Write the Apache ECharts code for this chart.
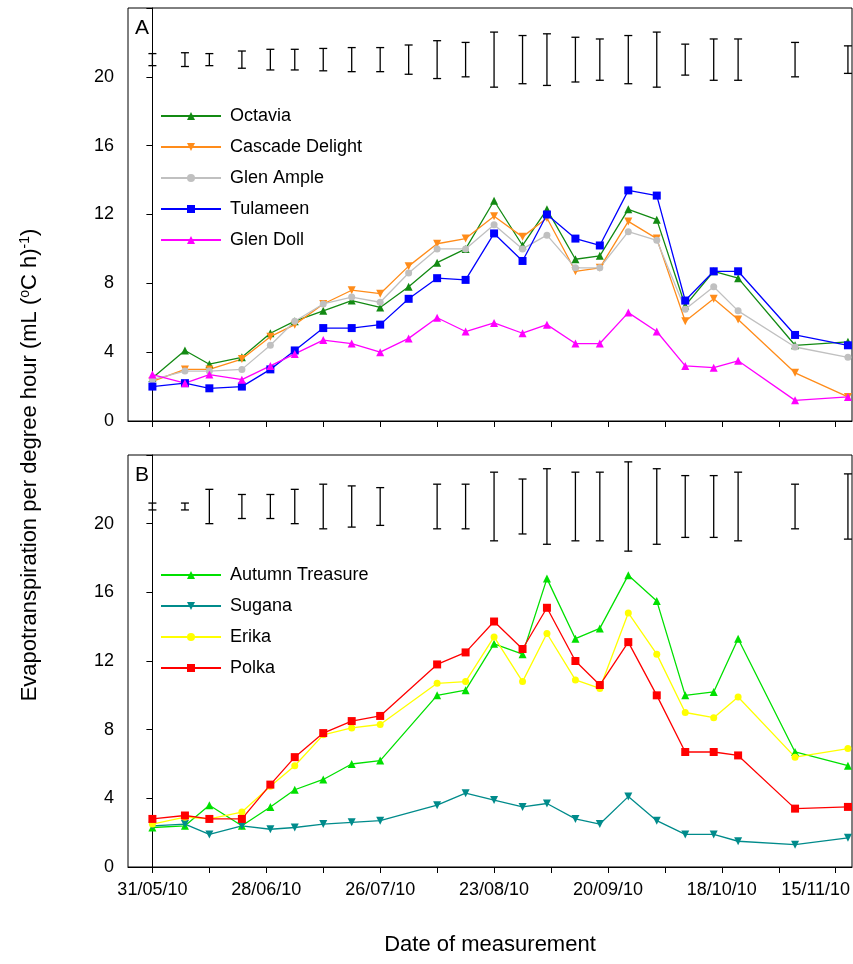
<!DOCTYPE html>
<html>
<head>
<meta charset="utf-8">
<title>Evapotranspiration</title>
<script src="https://cdn.jsdelivr.net/npm/echarts@6/dist/echarts.min.js"></script>
<style>html,body{margin:0;background:#fff;}</style>
</head>
<body>
<div id="main" style="width:853px;height:964px;"></div>
<script>
// days after 31/05/10
var daysA = [0,8,14,22,29,35,42,49,56,63,70,77,84,91,97,104,110,117,124,131,138,144,158,171];
var daysB = [0,8,14,22,29,35,42,49,56,70,77,84,91,97,104,110,117,124,131,138,144,158,171];
var tickLabels = ['31/05/10','28/06/10','26/07/10','23/08/10','20/09/10','18/10/10','15/11/10'];

var octavia  = [2.5,4.1,3.3,3.7,5.1,5.8,6.4,7.0,6.6,7.8,9.2,10.0,12.8,10.2,12.3,9.4,9.6,12.3,11.7,6.7,8.7,8.3,4.4,4.6];
var cascade  = [2.3,3.0,3.0,3.6,4.9,5.6,6.8,7.6,7.4,9.0,10.3,10.6,11.9,10.7,11.8,8.7,8.9,11.6,10.6,5.8,7.1,5.9,2.8,1.4];
var glenAmple= [2.4,2.9,2.9,3.0,4.4,5.8,6.8,7.2,6.9,8.6,10.0,10.0,11.4,10.0,10.8,8.9,8.9,11.0,10.5,6.5,7.8,6.4,4.3,3.7];
var tulameen = [2.0,2.2,1.9,2.0,3.0,4.1,5.4,5.4,5.6,7.1,8.3,8.2,10.9,9.3,12.0,10.6,10.2,13.4,13.1,7.0,8.7,8.7,5.0,4.4];
var glenDoll = [2.7,2.2,2.7,2.4,3.2,3.9,4.7,4.5,4.0,4.8,6.0,5.2,5.7,5.1,5.6,4.5,4.5,6.3,5.2,3.2,3.1,3.5,1.2,1.4];
var errA     = [0.35,0.4,0.35,0.5,0.6,0.6,0.65,0.7,0.7,0.85,1.1,1.0,1.6,1.4,1.5,1.3,1.2,1.4,1.6,0.9,1.2,1.2,1.0,0.8];

var autumn = [2.3,2.4,3.6,2.4,3.5,4.5,5.1,6.0,6.2,10.0,10.3,13.0,12.4,16.8,13.3,13.9,17.0,15.5,10.0,10.2,13.3,6.7,5.9];
var sugana = [2.4,2.5,1.9,2.4,2.2,2.3,2.5,2.6,2.7,3.6,4.3,3.9,3.5,3.7,2.8,2.5,4.1,2.7,1.9,1.9,1.5,1.3,1.7];
var erika  = [2.5,2.9,2.8,3.2,4.7,5.9,7.7,8.1,8.3,10.7,10.8,13.4,10.8,13.6,10.9,10.4,14.8,12.4,9.0,8.7,9.9,6.4,6.9];
var polka  = [2.8,3.0,2.8,2.8,4.8,6.4,7.8,8.5,8.8,11.8,12.5,14.3,12.7,15.1,12.0,10.6,13.1,10.0,6.7,6.7,6.5,3.4,3.5];
var errB   = [0.2,0.2,1.0,0.7,0.7,1.0,1.3,1.2,1.1,1.3,1.3,2.0,1.6,2.2,2.0,2.0,2.6,2.2,1.8,1.8,2.0,1.3,1.9];
var errCenter = 21;

var chart = echarts.init(document.getElementById('main'));

function pairs(xs, ys) { return xs.map(function (x, i) { return [x, ys[i]]; }); }

function xAxisCfg(idx, showLabel) {
    return {
        type: 'value', gridIndex: idx, min: -6, max: 172,
        splitLine: {show: false},
        axisLine: {lineStyle: {color: '#000'}},
        axisTick: {customValues: [0,14,28,42,56,70,84,98,112,126,140,154,168], length: 6, lineStyle: {color: '#000'}},
        axisLabel: {show: showLabel, customValues: [0,28,56,84,112,140,168], margin: 14, hideOverlap: false,
            color: '#000', fontSize: 18, fontFamily: 'Liberation Sans',
            formatter: function (v) {
                return v === 168 ? '{last|' + tickLabels[6] + '}' : tickLabels[v / 28];
            },
            rich: {last: {fontSize: 18, fontFamily: 'Liberation Sans', color: '#000', padding: [0, 40, 0, 0]}}}
    };
}
function yAxisCfg(idx) {
    return {
        type: 'value', gridIndex: idx, min: 0, max: 24, interval: 4,
        splitLine: {show: false},
        axisLine: {show: true, lineStyle: {color: '#000'}},
        axisTick: {length: 6, lineStyle: {color: '#000'}},
        axisLabel: {color: '#000', fontSize: 18, fontFamily: 'Liberation Sans', margin: 14,
            formatter: function (v) { return v === 24 ? '' : v; }}
    };
}
function lineSeries(name, xs, ys, color, symbol, rot, idx) {
    return {
        name: name, type: 'line', data: pairs(xs, ys), xAxisIndex: idx, yAxisIndex: idx,
        color: color, symbol: symbol, symbolSize: symbol === 'circle' ? 7 : 8, symbolRotate: rot,
        lineStyle: {width: 1.3, color: color}, itemStyle: {color: color}, animation: false
    };
}
function errSeries(xs, errs, idx) {
    return {
        type: 'custom', xAxisIndex: idx, yAxisIndex: idx, animation: false,
        data: xs.map(function (x, i) { return [x, errCenter - errs[i], errCenter + errs[i]]; }),
        renderItem: function (params, api) {
            var lo = api.coord([api.value(0), api.value(1)]);
            var hi = api.coord([api.value(0), api.value(2)]);
            var st = {stroke: '#000', lineWidth: 1.3};
            return {type: 'group', children: [
                {type: 'line', shape: {x1: lo[0], y1: lo[1], x2: hi[0], y2: hi[1]}, style: st},
                {type: 'line', shape: {x1: lo[0]-4, y1: lo[1], x2: lo[0]+4, y2: lo[1]}, style: st},
                {type: 'line', shape: {x1: hi[0]-4, y1: hi[1], x2: hi[0]+4, y2: hi[1]}, style: st}
            ]};
        }
    };
}

var legendBase = {orient: 'vertical', itemWidth: 60, itemHeight: 10, itemGap: 13,
    textStyle: {color: '#000', fontSize: 18, fontFamily: 'Liberation Sans', padding: [0,0,0,4]}};

option = {
    backgroundColor: '#fff',
    grid: [
        {left: 128, right: 1, top: 8, height: 413, show: true, borderColor: '#000', borderWidth: 1, outerBoundsMode: 'none', containLabel: false},
        {left: 128, right: 1, top: 455, height: 412, show: true, borderColor: '#000', borderWidth: 1, outerBoundsMode: 'none', containLabel: false}
    ],
    xAxis: [xAxisCfg(0, false), xAxisCfg(1, true)],
    yAxis: [yAxisCfg(0), yAxisCfg(1)],
    legend: [
        Object.assign({left: 155, top: 102, data: ['Octavia','Cascade Delight','Glen Ample','Tulameen','Glen Doll']}, legendBase),
        Object.assign({left: 155, top: 561, data: ['Autumn Treasure','Sugana','Erika','Polka']}, legendBase)
    ],
    graphic: [
        {type: 'text', left: 135, top: 18, style: {text: 'A', fontSize: 21, fontFamily: 'Liberation Sans', fill: '#000'}},
        {type: 'text', left: 135, top: 465, style: {text: 'B', fontSize: 21, fontFamily: 'Liberation Sans', fill: '#000'}},
        {type: 'text', x: 30, y: 465, rotation: Math.PI / 2, style: {
            text: 'Evapotranspiration per degree hour (mL ({sup|o}C h){sup|-1})',
            rich: {sup: {fontSize: 14, verticalAlign: 'top', padding: [0,0,9,0]}},
            fontSize: 22, fontFamily: 'Liberation Sans', fill: '#000', align: 'center', verticalAlign: 'middle'}},
        {type: 'text', x: 490, y: 945, style: {text: 'Date of measurement',
            fontSize: 22, fontFamily: 'Liberation Sans', fill: '#000', align: 'center', verticalAlign: 'middle'}}
    ],
    series: [
        errSeries(daysA, errA, 0),
        lineSeries('Octavia', daysA, octavia, '#138a13', 'triangle', 0, 0),
        lineSeries('Cascade Delight', daysA, cascade, '#ff8c1a', 'triangle', 180, 0),
        lineSeries('Glen Ample', daysA, glenAmple, '#c0c0c0', 'circle', 0, 0),
        lineSeries('Tulameen', daysA, tulameen, '#0000ff', 'rect', 0, 0),
        lineSeries('Glen Doll', daysA, glenDoll, '#ff00ff', 'triangle', 0, 0),
        errSeries(daysB, errB, 1),
        lineSeries('Autumn Treasure', daysB, autumn, '#00e000', 'triangle', 0, 1),
        lineSeries('Sugana', daysB, sugana, '#008b8b', 'triangle', 180, 1),
        lineSeries('Erika', daysB, erika, '#ffff00', 'circle', 0, 1),
        lineSeries('Polka', daysB, polka, '#ff0000', 'rect', 0, 1)
    ]
};
chart.setOption(option);
</script>
</body>
</html>
